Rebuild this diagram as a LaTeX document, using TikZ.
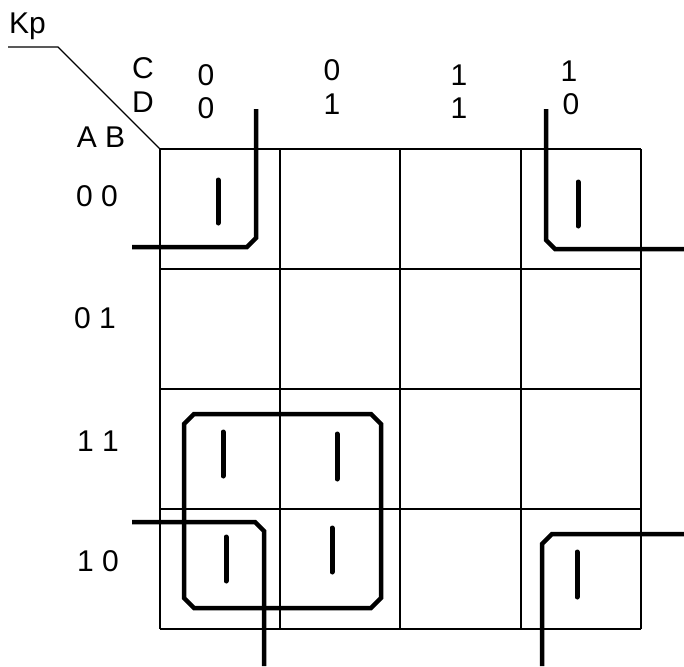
\documentclass[tikz,border=0pt]{standalone}
\usepackage{fontspec}
\setmainfont{Liberation Sans}

\newcommand*{\gxmin}{160}
\newcommand*{\gxmax}{641}
\newcommand*{\gymin}{149}
\newcommand*{\gymax}{629}

\begin{document}
\begin{tikzpicture}
[
	gridline/.style={line width=1.8pt},
	loopline/.style={line width=4.5pt},
	onebar/.style={line width=5pt,line cap=round},
	lbl/.style={font=\fontsize{30}{30}\selectfont,inner sep=0pt},
	x=1pt,
	y=-1pt
]

	\useasboundingbox (0,0) rectangle (684,666);

	% grid
	\foreach \x in {160,280,400,521,641}
		\draw[gridline] (\x,\gymin) -- (\x,\gymax);
	\foreach \y in {149,269,389,509,629}
		\draw[gridline] (\gxmin,\y) -- (\gxmax,\y);

	% corner label
	\node[lbl,anchor=base west] (kp) at (9,34) {Kp};
	\coordinate (kpleft) at (8,47);
	\coordinate (kpright) at (58,47);
	\coordinate (corner) at (\gxmin,\gymin);
	\draw[line width=1.3pt] (kpleft) -- (kpright) -- (corner);
	\node[lbl] (vc) at (143,68) {C};
	\node[lbl] (vd) at (143,102) {D};
	\node[lbl] (vab) at (101,137) {A B};

	% column and row values
	\node[lbl] (c1) at (206,75) {0};
	\node[lbl] (d1) at (206,108) {0};
	\node[lbl] (c2) at (332,70) {0};
	\node[lbl] (d2) at (332,104) {1};
	\node[lbl] (c3) at (459,75) {1};
	\node[lbl] (d3) at (459,108) {1};
	\node[lbl] (c4) at (569,71) {1};
	\node[lbl] (d4) at (571,104) {0};
	\node[lbl] (r1) at (97,196) {0 0};
	\node[lbl] (r2) at (95,318) {0 1};
	\node[lbl] (r3) at (98,441) {1 1};
	\node[lbl] (r4) at (98,561) {1 0};

	% ones
	\draw[onebar] (218,180) -- (218,223);
	\draw[onebar] (578,182) -- (578,226);
	\draw[onebar] (577,552) -- (577,597);
	\draw[onebar] (223,432) -- (223,476);
	\draw[onebar] (337,434) -- (337,479);
	\draw[onebar] (226,537) -- (226,581);
	\draw[onebar] (332,528) -- (332,572);

	% groups
	\draw[loopline] (256,109) -- (256,238) -- (247,247) -- (132,247);
	\draw[loopline] (546,109) -- (546,240) -- (555,249) -- (684,249);
	\draw[loopline] (132,522) -- (255,522) -- (264,531) -- (264,666);
	\draw[loopline] (684,534) -- (552,534) -- (542,544) -- (542,666);
	\draw[loopline] (194,414) -- (371,414) -- (381,424) -- (381,598)
		-- (371,608) -- (194,608) -- (184,598) -- (184,424) -- cycle;

\end{tikzpicture}
\end{document}
